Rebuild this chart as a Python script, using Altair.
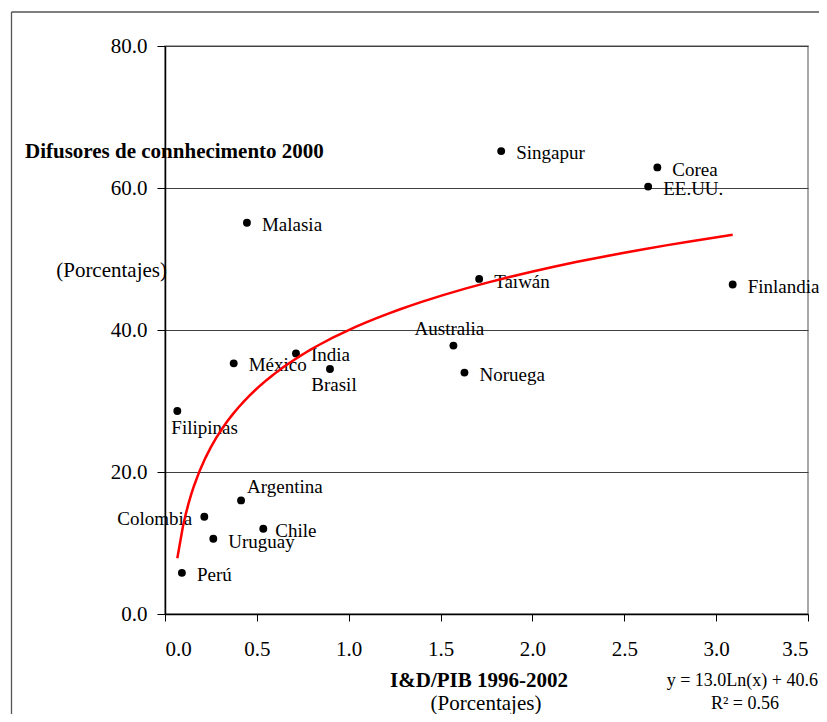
import altair as alt
import pandas as pd

# ---- data ----
countries = ["Singapur", "Corea", "EE.UU.", "Malasia", "Taiwán", "Finlandia",
             "Australia", "Noruega", "India", "México", "Brasil", "Filipinas",
             "Argentina", "Colombia", "Chile", "Uruguay", "Perú"]
rd_gdp = [1.83, 2.68, 2.63, 0.446, 1.71, 3.09,
          1.57, 1.63, 0.713, 0.374, 0.898, 0.067,
          0.414, 0.214, 0.535, 0.263, 0.092]
diffusers = [65.2, 62.9, 60.2, 55.1, 47.2, 46.4,
             37.8, 34.0, 36.7, 35.3, 34.5, 28.6,
             16.0, 13.7, 12.0, 10.6, 5.8]

x_ticks = [0, 0.5, 1.0, 1.5, 2.0, 2.5, 3.0, 3.5]
y_ticks = [0, 20, 40, 60, 80]

df = pd.DataFrame({"pais": countries, "x": rd_gdp, "y": diffusers})

# ---- styles ----
W, H = 643, 568
FONT = "Liberation Serif"
label_style = {
    "Singapur": ("left", 15, 2), "Corea": ("left", 15, 3), "EE.UU.": ("left", 15, 2),
    "Malasia": ("left", 15, 2), "Taiwán": ("left", 15, 3), "Finlandia": ("left", 15, 2),
    "Noruega": ("left", 15, 2), "India": ("left", 15, 2), "México": ("left", 15, 2),
    "Uruguay": ("left", 15, 3), "Perú": ("left", 15, 2), "Chile": ("left", 12, 2),
    "Australia": ("center", -4, -17), "Brasil": ("center", 4, 16),
    "Filipinas": ("left", -6, 17), "Argentina": ("left", 6, -13),
    "Colombia": ("right", -12, 2),
}

xs = alt.Scale(domain=[0, 3.5], nice=False, zero=False)
ys = alt.Scale(domain=[0, 80], nice=False)

base = alt.Chart(df)

points = base.mark_circle(size=62, color="black", opacity=1).encode(
    x=alt.X("x:Q", scale=xs, axis=alt.Axis(
        values=x_ticks, format=".1f", title=None, grid=False,
        domainColor="black", domainWidth=1.5, tickColor="black", tickSize=7,
        labelFont=FONT, labelFontSize=21, labelColor="black", labelPadding=17)),
    y=alt.Y("y:Q", scale=ys, axis=alt.Axis(
        values=y_ticks, format=".1f", title=None, grid=True,
        gridColor="#404040", gridWidth=1, domainColor="black", domainWidth=1.5,
        tickColor="black", tickSize=8,
        labelFont=FONT, labelFontSize=21, labelColor="black", labelPadding=10)),
)

groups = {}
for name, st in label_style.items():
    groups.setdefault(st, []).append(name)

label_layers = []
for (align, dx, dy), names in groups.items():
    label_layers.append(
        base.transform_filter(alt.FieldOneOfPredicate(field="pais", oneOf=names))
        .mark_text(align=align, baseline="middle", dx=dx, dy=dy, font=FONT,
                   fontSize=19, color="black")
        .encode(x=alt.X("x:Q", scale=xs), y=alt.Y("y:Q", scale=ys), text="pais:N")
    )

trend = base.transform_regression("x", "y", method="log").mark_line(
    color="#ff0000", strokeWidth=2.5).encode(
    x=alt.X("x:Q", scale=xs), y=alt.Y("y:Q", scale=ys))

one = alt.Chart(pd.DataFrame({"a": [0]}))

def txt(s, x, y, size=21, bold=False, align="center"):
    return one.mark_text(text=s, align=align, baseline="middle", font=FONT,
                         fontSize=size, fontWeight="bold" if bold else "normal",
                         color="black").encode(x=alt.value(x), y=alt.value(y))

annotations = [
    txt("Difusores de connhecimento 2000", -140, 106, bold=True, align="left"),
    txt("(Porcentajes)", 2, 225, align="right"),
    txt("I&D/PIB 1996-2002", 314, 635, bold=True),
    txt("(Porcentajes)", 321, 658),
    txt("y = 13.0Ln(x) + 40.6", 653, 635, size=18, align="right"),
    txt("R² = 0.56", 580, 658, size=18),
]

frame_top = one.mark_rule(color="#555555", strokeWidth=1.3).encode(
    x=alt.value(-153.5), x2=alt.value(W + 30), y=alt.value(-34))
frame_left = one.mark_rule(color="#555555", strokeWidth=1.3).encode(
    x=alt.value(-153.5), y=alt.value(-34), y2=alt.value(H + 130))

chart = alt.layer(
    frame_top, frame_left, points, *label_layers, trend, *annotations
).properties(
    width=W, height=H,
    autosize=alt.AutoSizeParams(type="none"),
    padding={"left": 157, "top": 38, "right": 11, "bottom": 100},
).configure_view(stroke="#8c8c8c", strokeWidth=1.5)

chart.save("out.html", embed_options={"renderer": "svg", "actions": False})
